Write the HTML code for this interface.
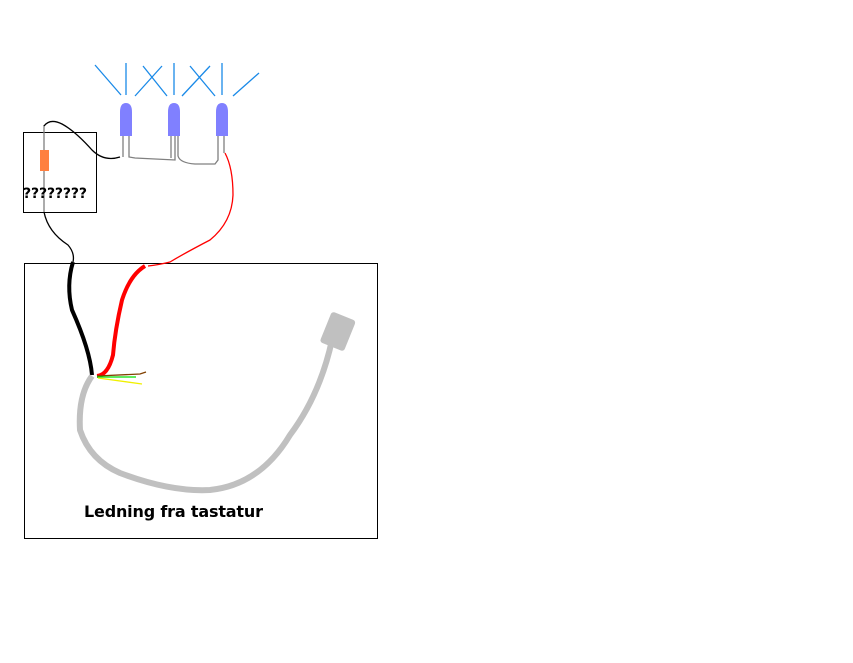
<!DOCTYPE html>
<html><head><style>body{margin:0;background:#fff}svg{display:block}</style></head><body>
<svg width="853" height="663" viewBox="0 0 853 663" xmlns="http://www.w3.org/2000/svg">
<rect x="23.5" y="132.5" width="73" height="80" fill="none" stroke="#000" stroke-width="1"/>
<rect x="24.5" y="263.5" width="353" height="275" fill="none" stroke="#000" stroke-width="1"/>
<g stroke="#1a8ae8" stroke-width="1.3" fill="none">
<line x1="126" y1="63" x2="126" y2="95"/><line x1="174" y1="63" x2="174" y2="95"/><line x1="222" y1="63" x2="222" y2="95"/>
<line x1="95" y1="65" x2="121" y2="95"/>
<line x1="135" y1="96" x2="162" y2="66"/><line x1="143" y1="66" x2="167" y2="96"/>
<line x1="182" y1="96" x2="210" y2="66"/><line x1="190" y1="66" x2="215" y2="96"/>
<line x1="233" y1="96" x2="259" y2="73"/>
</g>
<g fill="#8080ff">
<path d="M120,136 V112 Q120,103 126,103 Q132,103 132,112 V136 Z"/>
<path d="M168,136 V112 Q168,103 174,103 Q180,103 180,112 V136 Z"/>
<path d="M216,136 V112 Q216,103 222,103 Q228,103 228,112 V136 Z"/>
</g>
<g stroke="#808080" stroke-width="1.3" fill="none">
<path d="M123,136 V157"/><path d="M129,136 V157 L135,158 L175,160 V157 L175,136"/>
<path d="M171,136 V158"/><path d="M178,136 V156 Q180,163 195,164 L215,164 L218,160 V136"/>
<path d="M224,136 V153"/>
<path d="M44,125 V212"/>
</g>
<rect x="40" y="150" width="9" height="21" fill="#ff8040"/>
<path d="M44,126 Q50,118 62,124 Q75,131 92,150 Q104,162 120,157" stroke="#000" stroke-width="1.3" fill="none"/>
<path d="M44,212 Q48,232 68,245 Q75,253 73,262" stroke="#000" stroke-width="1.3" fill="none"/>
<path d="M225,153 Q233,168 233,195 Q232,222 210,240 Q185,253 170,262 Q158,265 148,266" stroke="#f00" stroke-width="1.3" fill="none"/>
<path d="M73,262 Q66,285 72,310 Q90,350 92,375" stroke="#000" stroke-width="4" fill="none"/>
<path d="M145,266 Q130,275 122,300 Q115,330 113,355 Q108,375 97,376" stroke="#f00" stroke-width="4" fill="none"/>
<path d="M92,376 Q78,395 80,430 Q90,460 120,473 Q170,492 210,490 Q260,485 290,435 Q320,395 332,340" stroke="#c0c0c0" stroke-width="6" fill="none" stroke-linejoin="round"/>
<rect x="325" y="315" width="26" height="33" rx="3" fill="#c0c0c0" transform="rotate(22 338 331)"/>
<path d="M97,376 L140,374 L146,372" stroke="#804000" stroke-width="1.3" fill="none"/>
<path d="M97,377 L136,377" stroke="#00e000" stroke-width="1.3" fill="none"/>
<path d="M98,378 L142,384" stroke="#f0f000" stroke-width="1.3" fill="none"/>
<text x="23" y="198" font-family="DejaVu Sans, sans-serif" font-weight="bold" font-size="14" textLength="64">????????</text>
<text x="84" y="517" font-family="DejaVu Sans, sans-serif" font-weight="bold" font-size="16" textLength="179">Ledning fra tastatur</text>
</svg>
</body></html>
